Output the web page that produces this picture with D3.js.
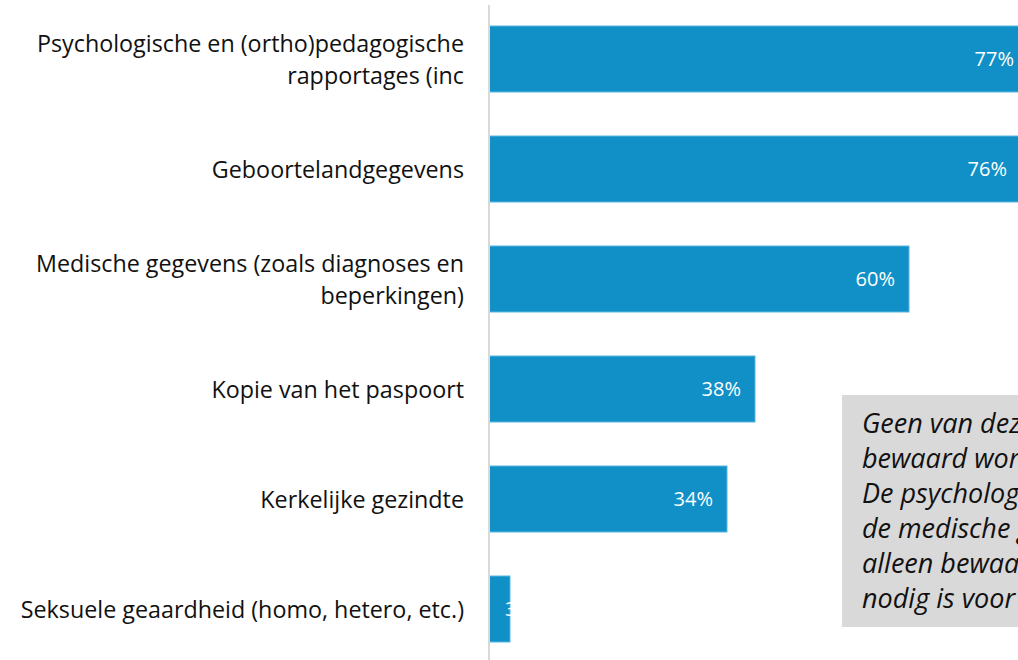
<!DOCTYPE html>
<html>
<head>
<meta charset="utf-8">
<script src="https://cdn.jsdelivr.net/npm/d3@7"></script>
<style>
  body { margin: 0; background: #fff; }
  svg { display: block; font-family: "Open Sans", sans-serif; }
</style>
</head>
<body>
<svg id="chart" width="1018" height="660"></svg>
<script>
// data
const categories = [
  ["Psychologische en (ortho)pedagogische", "rapportages (inc"],
  ["Geboortelandgegevens"],
  ["Medische gegevens (zoals diagnoses en", "beperkingen)"],
  ["Kopie van het paspoort"],
  ["Kerkelijke gezindte"],
  ["Seksuele geaardheid (homo, hetero, etc.)"]
];
const values = [77, 76, 60, 38, 34, 3];
const noteLines = [
  "Geen van deze gegevens",
  "bewaard worden.",
  "De psychologische rapportages en",
  "de medische gegevens mogen",
  "alleen bewaard worden als het",
  "nodig is voor de begeleiding."
];

const width = 1018;
const height = 660;
const svg = d3.select("#chart");

const keys = categories.map((c) => c.join(" "));
const x = d3.scaleLinear().domain([0, 80]).range([489, 1049]);
const y = d3
  .scaleBand()
  .domain(keys)
  .range([4, 664])
  .paddingInner(0.4)
  .paddingOuter(0.2);

// bars
svg
  .append("g")
  .selectAll("rect")
  .data(values)
  .join("rect")
  .attr("x", x(0))
  .attr("y", (d, i) => y(keys[i]))
  .attr("width", (d) => x(d) - x(0))
  .attr("height", y.bandwidth())
  .attr("fill", "#1190c8")
  .attr("stroke", "#5bb6e0")
  .attr("stroke-width", 1);

// value labels (narrow bars: label starts just inside the bar end)
svg
  .append("g")
  .selectAll("text")
  .data(values)
  .join("text")
  .attr("x", (d) => (x(d) - x(0) < 50 ? x(d) - 5 : x(d) - 14))
  .attr("y", (d, i) => y(keys[i]) + y.bandwidth() / 2)
  .attr("dy", "0.36em")
  .attr("text-anchor", (d) => (x(d) - x(0) < 50 ? "start" : "end"))
  .attr("fill", "#fff")
  .style("font-size", "20px")
  .text((d) => d + "%");

// vertical axis line
svg
  .append("line")
  .attr("x1", x(0))
  .attr("x2", x(0))
  .attr("y1", 5)
  .attr("y2", height)
  .attr("stroke", "#d9d9d9")
  .attr("stroke-width", 2);

// category labels
const lh = 32;
svg
  .append("g")
  .selectAll("text")
  .data(categories)
  .join("text")
  .attr("text-anchor", "end")
  .attr("fill", "#111")
  .style("font-size", "23.3px")
  .each(function (lines, i) {
    const cy = y(keys[i]) + y.bandwidth() / 2;
    const t = d3.select(this);
    lines.forEach((line, j) => {
      t.append("tspan")
        .attr("x", 464)
        .attr("y", cy + 1 + (j - (lines.length - 1) / 2) * lh)
        .attr("dy", "0.36em")
        .text(line);
    });
  });

// note box
const note = svg.append("g");
note
  .append("rect")
  .attr("x", 842)
  .attr("y", 395)
  .attr("width", 240)
  .attr("height", 232)
  .attr("fill", "#d9d9d9");
note
  .append("text")
  .style("font-size", "27px")
  .style("font-style", "italic")
  .attr("fill", "#111")
  .selectAll("tspan")
  .data(noteLines)
  .join("tspan")
  .attr("x", 862)
  .attr("y", (d, i) => 423 + i * 35)
  .attr("dy", "0.36em")
  .text((d) => d);
</script>
</body>
</html>
